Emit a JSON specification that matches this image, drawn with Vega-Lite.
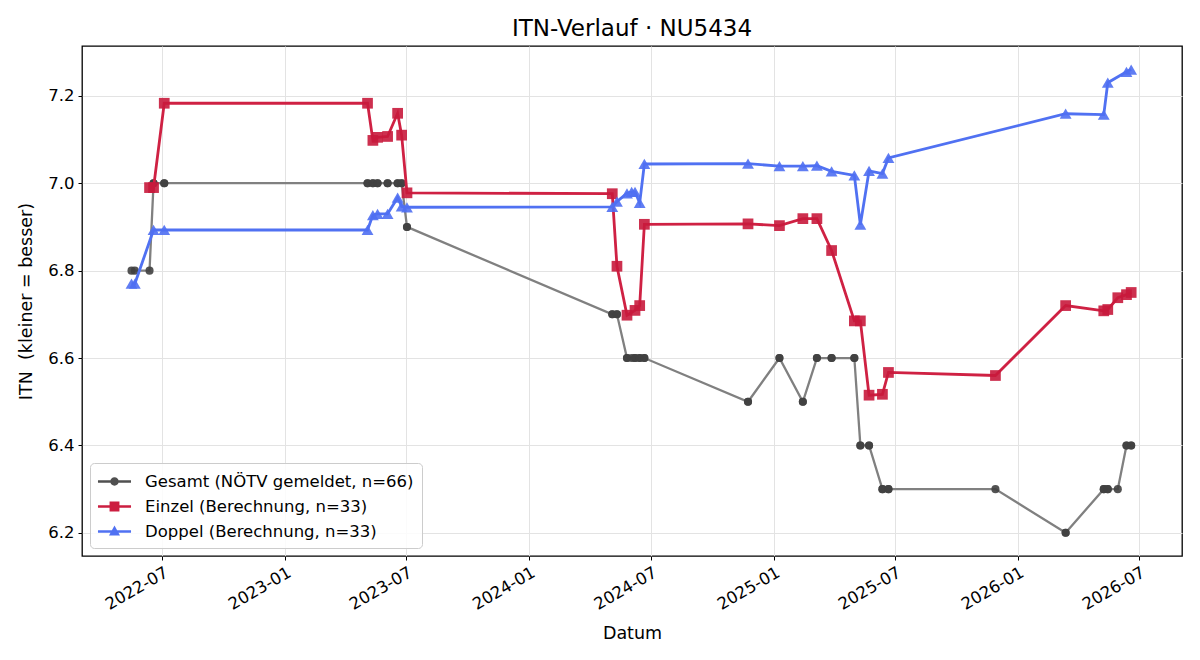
{
  "$schema": "https://vega.github.io/schema/vega-lite/v6.json",
  "width": 1100,
  "height": 510,
  "autosize": {"type": "none"},
  "padding": {"left": 82, "top": 46, "right": 18, "bottom": 104},
  "background": "white",
  "title": {"text": "ITN-Verlauf · NU5434", "font": "DejaVu Sans", "fontSize": 23, "fontWeight": "normal", "color": "black", "anchor": "middle", "baseline": "bottom", "offset": 6, "dy": 24},
  "config": {
    "view": {"stroke": "black", "strokeWidth": 1.3},
    "axis": {"domain": false, "labelFont": "DejaVu Sans", "labelFontSize": 16.5, "labelColor": "black", "titleFont": "DejaVu Sans", "titleFontSize": 17.5, "titleFontWeight": "normal", "titleColor": "black", "tickColor": "black", "tickSize": 4, "tickWidth": 1, "labelPadding": 4, "gridColor": "#e3e3e3", "gridWidth": 1},
    "legend": {"labelFont": "DejaVu Sans"}
  },
  "data": {"values": [
    {"serie": "Gesamt", "datum": "2022-05-16", "itn": 6.8},
    {"serie": "Gesamt", "datum": "2022-05-21", "itn": 6.8},
    {"serie": "Gesamt", "datum": "2022-06-12", "itn": 6.8},
    {"serie": "Gesamt", "datum": "2022-06-18", "itn": 7.0},
    {"serie": "Gesamt", "datum": "2022-06-18", "itn": 7.0},
    {"serie": "Gesamt", "datum": "2022-07-04", "itn": 7.0},
    {"serie": "Gesamt", "datum": "2022-07-04", "itn": 7.0},
    {"serie": "Gesamt", "datum": "2023-05-04", "itn": 7.0},
    {"serie": "Gesamt", "datum": "2023-05-04", "itn": 7.0},
    {"serie": "Gesamt", "datum": "2023-05-12", "itn": 7.0},
    {"serie": "Gesamt", "datum": "2023-05-12", "itn": 7.0},
    {"serie": "Gesamt", "datum": "2023-05-19", "itn": 7.0},
    {"serie": "Gesamt", "datum": "2023-05-19", "itn": 7.0},
    {"serie": "Gesamt", "datum": "2023-06-03", "itn": 7.0},
    {"serie": "Gesamt", "datum": "2023-06-03", "itn": 7.0},
    {"serie": "Gesamt", "datum": "2023-06-18", "itn": 7.0},
    {"serie": "Gesamt", "datum": "2023-06-18", "itn": 7.0},
    {"serie": "Gesamt", "datum": "2023-06-24", "itn": 7.0},
    {"serie": "Gesamt", "datum": "2023-06-24", "itn": 7.0},
    {"serie": "Gesamt", "datum": "2023-07-02", "itn": 6.9},
    {"serie": "Gesamt", "datum": "2023-07-02", "itn": 6.9},
    {"serie": "Gesamt", "datum": "2024-05-04", "itn": 6.7},
    {"serie": "Gesamt", "datum": "2024-05-04", "itn": 6.7},
    {"serie": "Gesamt", "datum": "2024-05-11", "itn": 6.7},
    {"serie": "Gesamt", "datum": "2024-05-11", "itn": 6.7},
    {"serie": "Gesamt", "datum": "2024-05-26", "itn": 6.6},
    {"serie": "Gesamt", "datum": "2024-05-26", "itn": 6.6},
    {"serie": "Gesamt", "datum": "2024-06-02", "itn": 6.6},
    {"serie": "Gesamt", "datum": "2024-06-07", "itn": 6.6},
    {"serie": "Gesamt", "datum": "2024-06-07", "itn": 6.6},
    {"serie": "Gesamt", "datum": "2024-06-14", "itn": 6.6},
    {"serie": "Gesamt", "datum": "2024-06-14", "itn": 6.6},
    {"serie": "Gesamt", "datum": "2024-06-21", "itn": 6.6},
    {"serie": "Gesamt", "datum": "2024-06-21", "itn": 6.6},
    {"serie": "Gesamt", "datum": "2024-11-23", "itn": 6.5},
    {"serie": "Gesamt", "datum": "2024-11-23", "itn": 6.5},
    {"serie": "Gesamt", "datum": "2025-01-09", "itn": 6.6},
    {"serie": "Gesamt", "datum": "2025-01-09", "itn": 6.6},
    {"serie": "Gesamt", "datum": "2025-02-13", "itn": 6.5},
    {"serie": "Gesamt", "datum": "2025-02-13", "itn": 6.5},
    {"serie": "Gesamt", "datum": "2025-03-06", "itn": 6.6},
    {"serie": "Gesamt", "datum": "2025-03-06", "itn": 6.6},
    {"serie": "Gesamt", "datum": "2025-03-28", "itn": 6.6},
    {"serie": "Gesamt", "datum": "2025-03-28", "itn": 6.6},
    {"serie": "Gesamt", "datum": "2025-05-01", "itn": 6.6},
    {"serie": "Gesamt", "datum": "2025-05-01", "itn": 6.6},
    {"serie": "Gesamt", "datum": "2025-05-10", "itn": 6.4},
    {"serie": "Gesamt", "datum": "2025-05-10", "itn": 6.4},
    {"serie": "Gesamt", "datum": "2025-05-23", "itn": 6.4},
    {"serie": "Gesamt", "datum": "2025-05-23", "itn": 6.4},
    {"serie": "Gesamt", "datum": "2025-06-12", "itn": 6.3},
    {"serie": "Gesamt", "datum": "2025-06-12", "itn": 6.3},
    {"serie": "Gesamt", "datum": "2025-06-21", "itn": 6.3},
    {"serie": "Gesamt", "datum": "2025-06-21", "itn": 6.3},
    {"serie": "Gesamt", "datum": "2025-11-28", "itn": 6.3},
    {"serie": "Gesamt", "datum": "2026-03-13", "itn": 6.2},
    {"serie": "Gesamt", "datum": "2026-03-13", "itn": 6.2},
    {"serie": "Gesamt", "datum": "2026-05-09", "itn": 6.3},
    {"serie": "Gesamt", "datum": "2026-05-09", "itn": 6.3},
    {"serie": "Gesamt", "datum": "2026-05-15", "itn": 6.3},
    {"serie": "Gesamt", "datum": "2026-05-15", "itn": 6.3},
    {"serie": "Gesamt", "datum": "2026-05-30", "itn": 6.3},
    {"serie": "Gesamt", "datum": "2026-06-12", "itn": 6.4},
    {"serie": "Gesamt", "datum": "2026-06-12", "itn": 6.4},
    {"serie": "Gesamt", "datum": "2026-06-19", "itn": 6.4},
    {"serie": "Gesamt", "datum": "2026-06-19", "itn": 6.4},

    {"serie": "Einzel", "datum": "2022-06-12", "itn": 6.99},
    {"serie": "Einzel", "datum": "2022-06-18", "itn": 6.99},
    {"serie": "Einzel", "datum": "2022-07-04", "itn": 7.183},
    {"serie": "Einzel", "datum": "2023-05-04", "itn": 7.183},
    {"serie": "Einzel", "datum": "2023-05-12", "itn": 7.098},
    {"serie": "Einzel", "datum": "2023-05-19", "itn": 7.105},
    {"serie": "Einzel", "datum": "2023-06-03", "itn": 7.107},
    {"serie": "Einzel", "datum": "2023-06-18", "itn": 7.16},
    {"serie": "Einzel", "datum": "2023-06-24", "itn": 7.11},
    {"serie": "Einzel", "datum": "2023-07-02", "itn": 6.978},
    {"serie": "Einzel", "datum": "2024-05-04", "itn": 6.976},
    {"serie": "Einzel", "datum": "2024-05-11", "itn": 6.81},
    {"serie": "Einzel", "datum": "2024-05-26", "itn": 6.698},
    {"serie": "Einzel", "datum": "2024-06-07", "itn": 6.709},
    {"serie": "Einzel", "datum": "2024-06-14", "itn": 6.72},
    {"serie": "Einzel", "datum": "2024-06-21", "itn": 6.906},
    {"serie": "Einzel", "datum": "2024-11-23", "itn": 6.907},
    {"serie": "Einzel", "datum": "2025-01-09", "itn": 6.903},
    {"serie": "Einzel", "datum": "2025-02-13", "itn": 6.919},
    {"serie": "Einzel", "datum": "2025-03-06", "itn": 6.919},
    {"serie": "Einzel", "datum": "2025-03-28", "itn": 6.846},
    {"serie": "Einzel", "datum": "2025-05-01", "itn": 6.685},
    {"serie": "Einzel", "datum": "2025-05-10", "itn": 6.685},
    {"serie": "Einzel", "datum": "2025-05-23", "itn": 6.515},
    {"serie": "Einzel", "datum": "2025-06-12", "itn": 6.517},
    {"serie": "Einzel", "datum": "2025-06-21", "itn": 6.567},
    {"serie": "Einzel", "datum": "2025-11-28", "itn": 6.56},
    {"serie": "Einzel", "datum": "2026-03-13", "itn": 6.72},
    {"serie": "Einzel", "datum": "2026-05-09", "itn": 6.708},
    {"serie": "Einzel", "datum": "2026-05-15", "itn": 6.711},
    {"serie": "Einzel", "datum": "2026-05-30", "itn": 6.738},
    {"serie": "Einzel", "datum": "2026-06-12", "itn": 6.745},
    {"serie": "Einzel", "datum": "2026-06-19", "itn": 6.75},

    {"serie": "Doppel", "datum": "2022-05-16", "itn": 6.77},
    {"serie": "Doppel", "datum": "2022-05-21", "itn": 6.77},
    {"serie": "Doppel", "datum": "2022-06-18", "itn": 6.893},
    {"serie": "Doppel", "datum": "2022-07-04", "itn": 6.893},
    {"serie": "Doppel", "datum": "2023-05-04", "itn": 6.893},
    {"serie": "Doppel", "datum": "2023-05-12", "itn": 6.927},
    {"serie": "Doppel", "datum": "2023-05-19", "itn": 6.93},
    {"serie": "Doppel", "datum": "2023-06-03", "itn": 6.93},
    {"serie": "Doppel", "datum": "2023-06-18", "itn": 6.967},
    {"serie": "Doppel", "datum": "2023-06-24", "itn": 6.947},
    {"serie": "Doppel", "datum": "2023-07-02", "itn": 6.945},
    {"serie": "Doppel", "datum": "2024-05-04", "itn": 6.946},
    {"serie": "Doppel", "datum": "2024-05-11", "itn": 6.958},
    {"serie": "Doppel", "datum": "2024-05-26", "itn": 6.977},
    {"serie": "Doppel", "datum": "2024-06-02", "itn": 6.98},
    {"serie": "Doppel", "datum": "2024-06-07", "itn": 6.98},
    {"serie": "Doppel", "datum": "2024-06-14", "itn": 6.955},
    {"serie": "Doppel", "datum": "2024-06-21", "itn": 7.044},
    {"serie": "Doppel", "datum": "2024-11-23", "itn": 7.045},
    {"serie": "Doppel", "datum": "2025-01-09", "itn": 7.039},
    {"serie": "Doppel", "datum": "2025-02-13", "itn": 7.039},
    {"serie": "Doppel", "datum": "2025-03-06", "itn": 7.04},
    {"serie": "Doppel", "datum": "2025-03-28", "itn": 7.027},
    {"serie": "Doppel", "datum": "2025-05-01", "itn": 7.018},
    {"serie": "Doppel", "datum": "2025-05-10", "itn": 6.905},
    {"serie": "Doppel", "datum": "2025-05-23", "itn": 7.028},
    {"serie": "Doppel", "datum": "2025-06-12", "itn": 7.022},
    {"serie": "Doppel", "datum": "2025-06-21", "itn": 7.058},
    {"serie": "Doppel", "datum": "2026-03-13", "itn": 7.159},
    {"serie": "Doppel", "datum": "2026-05-09", "itn": 7.157},
    {"serie": "Doppel", "datum": "2026-05-15", "itn": 7.23},
    {"serie": "Doppel", "datum": "2026-06-12", "itn": 7.255},
    {"serie": "Doppel", "datum": "2026-06-19", "itn": 7.26}
  ]},
  "encoding": {
    "x": {
      "field": "datum", "type": "temporal", "title": "Datum",
      "scale": {"type": "utc", "domain": [{"year": 2022, "month": 3, "date": 3, "utc": true}, {"year": 2026, "month": 9, "date": 3, "utc": true}]},
      "axis": {
        "values": [
          {"year": 2022, "month": 7, "date": 1, "utc": true},
          {"year": 2023, "month": 1, "date": 1, "utc": true},
          {"year": 2023, "month": 7, "date": 1, "utc": true},
          {"year": 2024, "month": 1, "date": 1, "utc": true},
          {"year": 2024, "month": 7, "date": 1, "utc": true},
          {"year": 2025, "month": 1, "date": 1, "utc": true},
          {"year": 2025, "month": 7, "date": 1, "utc": true},
          {"year": 2026, "month": 1, "date": 1, "utc": true},
          {"year": 2026, "month": 7, "date": 1, "utc": true}
        ],
        "format": "%Y-%m", "labelAngle": -30, "labelAlign": "right", "labelBaseline": "top", "labelOverlap": false,
        "titleY": 77, "titleBaseline": "middle", "grid": true
      }
    },
    "y": {
      "field": "itn", "type": "quantitative", "title": "ITN\u00a0 (kleiner = besser)",
      "scale": {"domain": [6.147, 7.314], "nice": false, "zero": false},
      "axis": {"values": [6.2, 6.4, 6.6, 6.8, 7.0, 7.2], "format": ".1f", "grid": true, "titleX": -56, "titleBaseline": "middle"}
    }
  },
  "layer": [
    {
      "transform": [{"filter": "datum.serie === 'Gesamt'"}],
      "mark": {"type": "line", "color": "#808080", "strokeWidth": 2.3}
    },
    {
      "transform": [{"filter": "datum.serie === 'Gesamt'"}],
      "mark": {"type": "point", "shape": "circle", "filled": true, "size": 65, "opacity": 0.9, "color": "#404040"}
    },
    {
      "transform": [{"filter": "datum.serie === 'Einzel'"}],
      "mark": {"type": "line", "color": "#cf2143", "strokeWidth": 2.8}
    },
    {
      "transform": [{"filter": "datum.serie === 'Einzel'"}],
      "mark": {"type": "point", "shape": "square", "filled": true, "size": 115, "opacity": 0.9, "color": "#c81a3c"}
    },
    {
      "transform": [{"filter": "datum.serie === 'Doppel'"}],
      "mark": {"type": "line", "color": "#5071f2", "strokeWidth": 2.8}
    },
    {
      "transform": [{"filter": "datum.serie === 'Doppel'"}],
      "mark": {"type": "point", "shape": "triangle-up", "filled": true, "size": 140, "opacity": 0.9, "color": "#4f6ff2"}
    },
    {
      "transform": [{"filter": "false"}],
      "mark": {"type": "point", "filled": true, "opacity": 1},
      "encoding": {
        "color": {
          "field": "serie", "type": "nominal",
          "scale": {"domain": ["Gesamt", "Einzel", "Doppel"], "range": ["#505050", "#cc1e40", "#5071f2"]},
          "legend": {
            "title": null, "orient": "bottom-left", "offset": 8,
            "fillColor": "rgba(255,255,255,0.85)", "strokeColor": "#cccccc", "cornerRadius": 4, "padding": 8,
            "symbolSize": 361, "symbolOffset": 6, "labelOffset": 20, "rowPadding": 6, "labelLimit": 500,
            "labelFont": "DejaVu Sans", "labelFontSize": 16.5, "labelColor": "black",
            "labelExpr": "datum.value === 'Gesamt' ? 'Gesamt (NÖTV gemeldet, n=66)' : datum.value === 'Einzel' ? 'Einzel (Berechnung, n=33)' : 'Doppel (Berechnung, n=33)'"
          }
        },
        "shape": {
          "field": "serie", "type": "nominal",
          "scale": {"domain": ["Gesamt", "Einzel", "Doppel"], "range": [
            "M-1.74,-0.12H1.74V0.12H-1.74ZM0.44,0A0.44,0.44,0,1,1,-0.44,0A0.44,0.44,0,1,1,0.44,0Z",
            "M-1.74,-0.13H1.74V0.13H-1.74ZM-0.52,-0.52H0.52V0.52H-0.52Z",
            "M-1.74,-0.13H1.74V0.13H-1.74ZM0,-0.62L0.58,0.42H-0.58Z"
          ]},
          "legend": {
            "title": null, "orient": "bottom-left", "offset": 8,
            "fillColor": "rgba(255,255,255,0.85)", "strokeColor": "#cccccc", "cornerRadius": 4, "padding": 8,
            "symbolSize": 361, "symbolOffset": 6, "labelOffset": 20, "rowPadding": 6, "labelLimit": 500,
            "labelFont": "DejaVu Sans", "labelFontSize": 16.5, "labelColor": "black",
            "labelExpr": "datum.value === 'Gesamt' ? 'Gesamt (NÖTV gemeldet, n=66)' : datum.value === 'Einzel' ? 'Einzel (Berechnung, n=33)' : 'Doppel (Berechnung, n=33)'"
          }
        }
      }
    }
  ]
}
